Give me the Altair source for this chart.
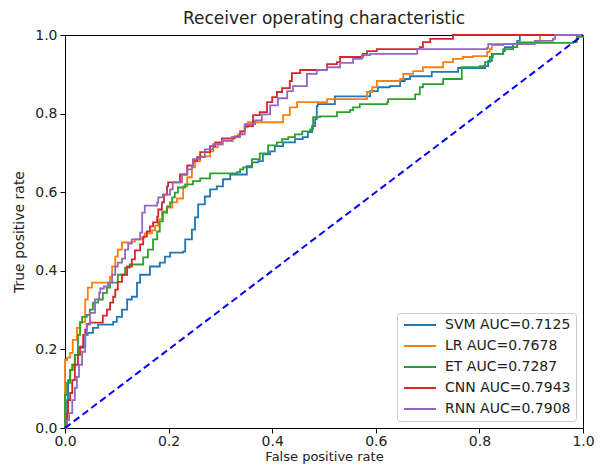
import altair as alt
import pandas as pd

models = ["SVM AUC=0.7125", "LR AUC=0.7678", "ET AUC=0.7287", "CNN AUC=0.7943", "RNN AUC=0.7908"]
colors = ["#1f77b4", "#ff7f0e", "#2ca02c", "#d62728", "#9467bd"]

svm_fpr = [0, 0.004, 0.006, 0.010, 0.014, 0.019, 0.025, 0.035, 0.039, 0.044, 0.054, 0.064, 0.091, 0.093, 0.100, 0.110, 0.120, 0.129, 0.139, 0.145, 0.164, 0.183, 0.193, 0.203, 0.228, 0.232, 0.245, 0.251, 0.257, 0.270, 0.280, 0.293, 0.305, 0.319, 0.351, 0.361, 0.373, 0.382, 0.396, 0.405, 0.421, 0.444, 0.459, 0.469, 0.477, 0.483, 0.486, 0.488, 0.521, 0.575, 0.589, 0.604, 0.627, 0.647, 0.656, 0.666, 0.708, 0.759, 0.782, 0.811, 0.817, 0.824, 0.846, 0.849, 0.865, 0.873, 0.878, 1.0]
svm_tpr = [0, 0.071, 0.122, 0.148, 0.161, 0.186, 0.204, 0.207, 0.237, 0.242, 0.255, 0.263, 0.263, 0.270, 0.283, 0.301, 0.327, 0.334, 0.370, 0.390, 0.411, 0.421, 0.436, 0.446, 0.449, 0.480, 0.505, 0.536, 0.569, 0.589, 0.607, 0.615, 0.633, 0.645, 0.666, 0.676, 0.679, 0.696, 0.704, 0.717, 0.727, 0.735, 0.740, 0.753, 0.768, 0.786, 0.819, 0.824, 0.844, 0.844, 0.857, 0.867, 0.870, 0.883, 0.888, 0.895, 0.906, 0.916, 0.916, 0.921, 0.934, 0.952, 0.959, 0.969, 0.977, 0.985, 1.0, 1.0]

lr_fpr = [0, 0, 0.004, 0.010, 0.015, 0.023, 0.029, 0.039, 0.044, 0.052, 0.071, 0.087, 0.091, 0.097, 0.102, 0.110, 0.129, 0.135, 0.149, 0.154, 0.168, 0.174, 0.180, 0.187, 0.197, 0.207, 0.216, 0.228, 0.236, 0.245, 0.251, 0.261, 0.280, 0.286, 0.295, 0.305, 0.324, 0.334, 0.342, 0.347, 0.353, 0.415, 0.421, 0.434, 0.448, 0.506, 0.575, 0.583, 0.593, 0.602, 0.647, 0.653, 0.672, 0.691, 0.730, 0.749, 0.768, 0.788, 0.815, 0.820, 0.824, 0.846, 0.878, 0.913, 0.917, 1.0]
lr_tpr = [0, 0.173, 0.179, 0.191, 0.224, 0.255, 0.270, 0.327, 0.357, 0.370, 0.370, 0.385, 0.411, 0.436, 0.454, 0.472, 0.474, 0.480, 0.485, 0.495, 0.503, 0.515, 0.531, 0.551, 0.561, 0.574, 0.584, 0.615, 0.638, 0.663, 0.679, 0.691, 0.704, 0.714, 0.722, 0.730, 0.740, 0.747, 0.755, 0.765, 0.778, 0.778, 0.796, 0.816, 0.829, 0.837, 0.837, 0.855, 0.867, 0.883, 0.888, 0.901, 0.908, 0.918, 0.931, 0.939, 0.944, 0.946, 0.957, 0.964, 0.974, 0.977, 0.982, 0.985, 1.0, 1.0]

et_fpr = [0, 0, 0.004, 0.010, 0.015, 0.019, 0.025, 0.029, 0.033, 0.042, 0.048, 0.054, 0.064, 0.073, 0.081, 0.087, 0.102, 0.116, 0.125, 0.145, 0.151, 0.160, 0.170, 0.178, 0.183, 0.189, 0.197, 0.203, 0.207, 0.212, 0.218, 0.232, 0.247, 0.261, 0.280, 0.332, 0.338, 0.344, 0.361, 0.376, 0.392, 0.409, 0.419, 0.431, 0.444, 0.458, 0.473, 0.479, 0.492, 0.517, 0.525, 0.550, 0.556, 0.569, 0.622, 0.624, 0.670, 0.676, 0.685, 0.691, 0.724, 0.730, 0.766, 0.801, 0.811, 0.820, 0.826, 0.846, 0.865, 0.873, 0.942, 0.981, 0.988, 1.0]
et_tpr = [0, 0.084, 0.115, 0.148, 0.161, 0.186, 0.237, 0.268, 0.283, 0.288, 0.301, 0.319, 0.327, 0.344, 0.357, 0.370, 0.390, 0.408, 0.416, 0.416, 0.434, 0.454, 0.480, 0.500, 0.526, 0.548, 0.564, 0.574, 0.587, 0.599, 0.612, 0.620, 0.628, 0.635, 0.648, 0.651, 0.658, 0.663, 0.684, 0.699, 0.719, 0.727, 0.735, 0.740, 0.747, 0.755, 0.760, 0.791, 0.793, 0.793, 0.804, 0.809, 0.816, 0.824, 0.829, 0.837, 0.837, 0.849, 0.867, 0.875, 0.875, 0.888, 0.918, 0.921, 0.931, 0.944, 0.952, 0.964, 0.969, 0.980, 0.980, 0.982, 0.995, 1.0]

cnn_fpr = [0, 0.004, 0.006, 0.010, 0.014, 0.019, 0.025, 0.029, 0.035, 0.039, 0.042, 0.048, 0.068, 0.073, 0.081, 0.087, 0.093, 0.097, 0.102, 0.110, 0.120, 0.129, 0.135, 0.145, 0.151, 0.158, 0.164, 0.170, 0.178, 0.180, 0.187, 0.191, 0.197, 0.199, 0.212, 0.222, 0.236, 0.247, 0.255, 0.261, 0.280, 0.290, 0.303, 0.328, 0.338, 0.347, 0.363, 0.376, 0.390, 0.400, 0.409, 0.419, 0.434, 0.438, 0.454, 0.486, 0.506, 0.525, 0.531, 0.575, 0.583, 0.602, 0.685, 0.691, 0.705, 0.747, 0.749, 1.0]
cnn_tpr = [0, 0.038, 0.071, 0.089, 0.122, 0.161, 0.186, 0.207, 0.237, 0.250, 0.265, 0.268, 0.268, 0.286, 0.301, 0.319, 0.334, 0.352, 0.372, 0.390, 0.411, 0.429, 0.452, 0.467, 0.487, 0.500, 0.513, 0.523, 0.538, 0.556, 0.574, 0.594, 0.615, 0.625, 0.625, 0.645, 0.668, 0.679, 0.689, 0.702, 0.717, 0.727, 0.737, 0.742, 0.755, 0.768, 0.796, 0.804, 0.829, 0.842, 0.855, 0.865, 0.883, 0.903, 0.911, 0.911, 0.926, 0.931, 0.944, 0.952, 0.959, 0.964, 0.969, 0.982, 0.990, 0.990, 1.0, 1.0]

rnn_fpr = [0, 0.004, 0.008, 0.014, 0.019, 0.023, 0.027, 0.033, 0.039, 0.042, 0.048, 0.058, 0.066, 0.068, 0.075, 0.083, 0.091, 0.097, 0.102, 0.110, 0.116, 0.122, 0.129, 0.141, 0.145, 0.149, 0.154, 0.178, 0.180, 0.189, 0.203, 0.208, 0.226, 0.236, 0.245, 0.247, 0.261, 0.270, 0.286, 0.303, 0.322, 0.338, 0.347, 0.367, 0.380, 0.396, 0.411, 0.429, 0.440, 0.467, 0.486, 0.506, 0.531, 0.556, 0.573, 0.589, 0.676, 0.680, 0.815, 0.817, 0.903, 0.907, 0.942, 0.946, 1.0]
rnn_tpr = [0, 0.020, 0.038, 0.071, 0.102, 0.130, 0.161, 0.194, 0.237, 0.263, 0.293, 0.327, 0.344, 0.355, 0.360, 0.370, 0.390, 0.411, 0.421, 0.431, 0.454, 0.469, 0.480, 0.480, 0.497, 0.548, 0.566, 0.574, 0.587, 0.594, 0.607, 0.625, 0.645, 0.658, 0.666, 0.684, 0.689, 0.709, 0.722, 0.732, 0.740, 0.747, 0.773, 0.783, 0.798, 0.821, 0.839, 0.857, 0.870, 0.901, 0.911, 0.918, 0.929, 0.939, 0.949, 0.952, 0.952, 0.964, 0.967, 0.977, 0.977, 0.985, 0.990, 1.0, 1.0]

diag_x = [0.0, 1.0]
diag_y = [0.0, 1.0]

rows = []
for m, fx, ty in zip(models,
                     [svm_fpr, lr_fpr, et_fpr, cnn_fpr, rnn_fpr],
                     [svm_tpr, lr_tpr, et_tpr, cnn_tpr, rnn_tpr]):
    for i, (a, b) in enumerate(zip(fx, ty)):
        rows.append({"model": m, "fpr": a, "tpr": b, "order": i})
df = pd.DataFrame(rows)
diag = pd.DataFrame({"fpr": diag_x, "tpr": diag_y})

font = "DejaVu Sans"
xscale = alt.Scale(domain=[0, 1], nice=False, zero=False)
yscale = alt.Scale(domain=[0, 1], nice=False, zero=False)

x_axis = alt.Axis(title="False positive rate", values=[0, 0.2, 0.4, 0.6, 0.8, 1.0], format=".1f",
                  grid=False, tickSize=5, tickColor="black", domainColor="black",
                  labelFontSize=14, titleFontSize=13, labelColor="#222", titleColor="#222",
                  titleFontWeight="normal", labelPadding=1, titlePadding=2, labelFlush=False)
y_axis = alt.Axis(title="True positive rate", values=[0, 0.2, 0.4, 0.6, 0.8, 1.0], format=".1f",
                  grid=False, tickSize=5, tickColor="black", domainColor="black",
                  labelFontSize=14, titleFontSize=14, labelColor="#222", titleColor="#222",
                  titleFontWeight="normal", labelPadding=3, titlePadding=8, labelFlush=False)

lines = alt.Chart(df).mark_line(strokeWidth=1.8, interpolate="step-after").encode(
    x=alt.X("fpr:Q", scale=xscale, axis=x_axis),
    y=alt.Y("tpr:Q", scale=yscale, axis=y_axis),
    order="order:Q",
    color=alt.Color("model:N", scale=alt.Scale(domain=models, range=colors),
                    legend=alt.Legend(title=None, orient="bottom-right", offset=7,
                                      symbolType="M-1,0H5.4", symbolSize=100, symbolStrokeWidth=2,
                                      labelFontSize=14, labelColor="#222", labelOffset=29,
                                      rowPadding=7, padding=5, fillColor="white",
                                      strokeColor="#cccccc", cornerRadius=3)),
)

diagonal = alt.Chart(diag).mark_line(color="#0000ff", strokeWidth=2, strokeDash=[7, 4]).encode(
    x=alt.X("fpr:Q", scale=xscale),
    y=alt.Y("tpr:Q", scale=yscale),
)

chart = alt.layer(lines, diagonal).properties(
    width=518, height=393,
    title=alt.TitleParams("Receiver operating characteristic", fontSize=17, fontWeight="normal",
                          font=font, color="#222", anchor="middle", offset=0),
    autosize=alt.AutoSizeParams(type="none"),
    padding={"left": 57, "top": 27, "right": 12, "bottom": 36},
).configure(font=font).configure_view(stroke="black", strokeWidth=1)

chart.save("out.html", embed_options={"renderer": "svg", "actions": False})
